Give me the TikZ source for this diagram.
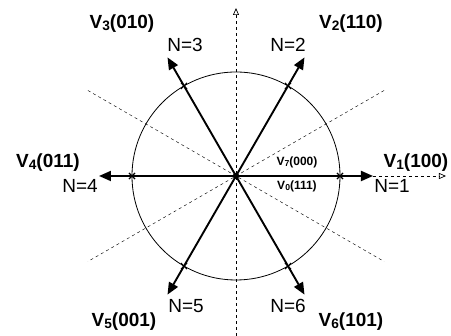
\documentclass[tikz,border=0pt]{standalone}
\usepackage{fontspec}
\setmainfont{Liberation Sans}
\usetikzlibrary{arrows.meta, shapes.misc, calc}

\newcommand{\vsub}[2]{V\raisebox{-0.15ex}{\fontsize{0.72em}{1em}\selectfont #1}(#2)}

\begin{document}
\begin{tikzpicture}[x=1pt, y=1pt,
  vec/.style={draw, line width=1.9pt, -{Triangle[length=12pt, width=10pt]}},
  axis/.style={draw, dashed, line width=0.7pt, -{Triangle[open, length=7pt, width=6pt]}},
  sect/.style={draw, dashed, line width=0.45pt},
  xmk/.style={cross out, draw, line width=1.1pt, minimum size=5pt, inner sep=0pt},
  vlbl/.style={font=\fontsize{19}{21}\selectfont\bfseries},
  nlbl/.style={font=\fontsize{19}{21}\selectfont},
  zlbl/.style={font=\fontsize{12}{14}\selectfont\bfseries}
]

%% 畫布範圍
\useasboundingbox (-236,-160) rectangle (215,176);

%% 中心與各向量端點（長度 137，間隔 60 度）
\coordinate (O) at (0,0);
\foreach \k in {1,...,6} {
  \coordinate (t\k) at ({(\k-1)*60}:137);
  \coordinate (c\k) at ({(\k-1)*60}:104);
}
\coordinate (ytop) at (0,168);
\coordinate (ybot) at (0,-160);
\coordinate (xend) at (210,0);

%% 扇區分界虛線（±30 度）
\coordinate (s1) at (30:171);   \coordinate (s2) at (210:171);
\coordinate (s3) at (150:171);  \coordinate (s4) at (330:171);
\draw[sect] (s1) -- (s2);
\draw[sect] (s3) -- (s4);

%% 座標軸
\draw[axis] (ybot) -- (ytop);
\draw[axis] (t1) -- (xend);

%% 圓
\draw[line width=0.8pt] (O) circle (104);

%% 六個電壓向量
\foreach \k in {1,...,6}
  \draw[vec] (O) -- (t\k);

%% 向量與圓的交點
\foreach \k in {1,...,6}
  \node[xmk] at (c\k) {};
\fill (O) circle (3.2);

%% 標籤
\node[vlbl] (v1) at (180,13)   {\vsub{1}{100}};
\node[vlbl] (v2) at (115,152)  {\vsub{2}{110}};
\node[vlbl] (v3) at (-114,152) {\vsub{3}{010}};
\node[vlbl] (v4) at (-188,13)  {\vsub{4}{011}};
\node[vlbl] (v5) at (-112,-146){\vsub{5}{001}};
\node[vlbl] (v6) at (115,-146) {\vsub{6}{101}};

\node[nlbl] (n1) at (156,-10)  {N=1};
\node[nlbl] (n2) at (52,131)   {N=2};
\node[nlbl] (n3) at (-51,131)  {N=3};
\node[nlbl] (n4) at (-156,-10) {N=4};
\node[nlbl] (n5) at (-50,-130) {N=5};
\node[nlbl] (n6) at (52,-130)  {N=6};

\node[zlbl] (v7) at (61,14)  {\vsub{7}{000}};
\node[zlbl] (v0) at (61,-10) {\vsub{0}{111}};

\end{tikzpicture}
\end{document}
